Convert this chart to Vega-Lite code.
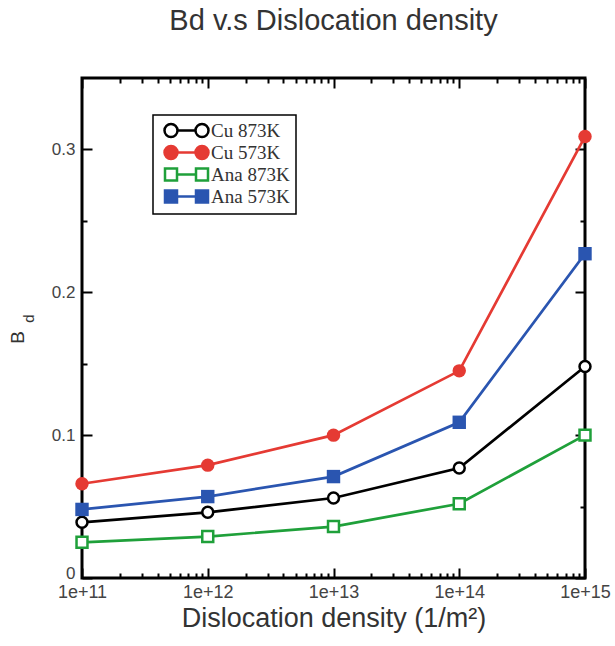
{
  "$schema": "https://vega.github.io/schema/vega-lite/v6.json",
  "autosize": "none",
  "padding": {"left": 82, "top": 78, "right": 30, "bottom": 68},
  "width": 503,
  "height": 500,
  "background": "white",
  "title": {
    "text": "Bd v.s Dislocation density",
    "font": "Liberation Sans",
    "fontSize": 29,
    "fontWeight": "normal",
    "color": "#333",
    "anchor": "middle",
    "offset": 41
  },
  "config": {
    "view": {"stroke": "black", "strokeWidth": 3},
    "axis": {
      "grid": false,
      "domain": false,
      "tickColor": "black",
      "tickWidth": 2,
      "labelFont": "Liberation Sans",
      "labelColor": "#444",
      "titleFont": "Liberation Sans",
      "titleColor": "#333",
      "titleFontWeight": "normal"
    }
  },
  "data": {
    "values": [
      {"rho": 1e11, "bd": 0.039, "series": "Cu 873K"},
      {"rho": 1e12, "bd": 0.046, "series": "Cu 873K"},
      {"rho": 1e13, "bd": 0.056, "series": "Cu 873K"},
      {"rho": 1e14, "bd": 0.077, "series": "Cu 873K"},
      {"rho": 1e15, "bd": 0.148, "series": "Cu 873K"},
      {"rho": 1e11, "bd": 0.066, "series": "Cu 573K"},
      {"rho": 1e12, "bd": 0.079, "series": "Cu 573K"},
      {"rho": 1e13, "bd": 0.100, "series": "Cu 573K"},
      {"rho": 1e14, "bd": 0.145, "series": "Cu 573K"},
      {"rho": 1e15, "bd": 0.309, "series": "Cu 573K"},
      {"rho": 1e11, "bd": 0.025, "series": "Ana 873K"},
      {"rho": 1e12, "bd": 0.029, "series": "Ana 873K"},
      {"rho": 1e13, "bd": 0.036, "series": "Ana 873K"},
      {"rho": 1e14, "bd": 0.052, "series": "Ana 873K"},
      {"rho": 1e15, "bd": 0.100, "series": "Ana 873K"},
      {"rho": 1e11, "bd": 0.048, "series": "Ana 573K"},
      {"rho": 1e12, "bd": 0.057, "series": "Ana 573K"},
      {"rho": 1e13, "bd": 0.071, "series": "Ana 573K"},
      {"rho": 1e14, "bd": 0.109, "series": "Ana 573K"},
      {"rho": 1e15, "bd": 0.227, "series": "Ana 573K"}
    ]
  },
  "resolve": {"axis": {"x": "independent", "y": "independent"}},
  "layer": [
    {
      "transform": [{"filter": "indexof(datum.series, 'Cu') == 0"}],
      "mark": {"type": "line", "strokeWidth": 2.7},
      "encoding": {
        "x": {
          "field": "rho", "type": "quantitative",
          "scale": {"type": "log", "domain": [1e11, 1e15], "nice": false},
          "axis": {
            "orient": "bottom",
            "values": [1e11, 1e12, 1e13, 1e14, 1e15],
            "labelExpr": "'1e+' + round(log(datum.value) / LN10)",
            "labelFontSize": 18,
            "labelPadding": 15,
            "labelFlush": false,
            "labelOverlap": false,
            "labelBound": false,
            "tickSize": -10,
            "title": "Dislocation density (1/m²)",
            "titleFontSize": 27,
            "titlePadding": 4
          }
        },
        "y": {
          "field": "bd", "type": "quantitative",
          "scale": {"domain": [0, 0.35], "nice": false, "zero": true},
          "axis": {
            "orient": "left",
            "values": [0, 0.1, 0.2, 0.3],
            "labelExpr": "datum.value == 0 ? '0' : format(datum.value, '.1f')",
            "labelFontSize": 17,
            "labelPadding": 17,
            "labelFlush": true,
            "labelFlushOffset": 4,
            "labelOverlap": false,
            "tickSize": -10,
            "title": "B",
            "titleFontSize": 19,
            "titleAngle": -90,
            "titleAlign": "center",
            "titleBaseline": "alphabetic",
            "titleX": -59,
            "titleY": 259
          }
        },
        "color": {
          "field": "series", "type": "nominal",
          "scale": {"domain": ["Cu 873K", "Cu 573K", "Ana 873K", "Ana 573K"], "range": ["#000000", "#e53a33", "#1fa03a", "#2a55b0"]},
          "legend": {
            "orient": "none", "legendX": 71, "legendY": 37, "title": null,
            "strokeColor": "black", "fillColor": "white",
            "padding": 6, "rowPadding": -1,
            "labelFont": "Liberation Serif", "labelFontSize": 19, "labelColor": "#333",
            "symbolSize": 100, "symbolOffset": 18, "labelOffset": 15, "symbolStrokeWidth": 2.5,
            "encode": {
              "legend": {"update": {"strokeWidth": {"value": 1.5}}},
              "symbols": {
                "update": {
                  "shape": {"signal": "indexof(datum.value, 'Cu') == 0 ? 'M-4.4,0A1.3,1.3,0,1,0,-1.8,0A1.3,1.3,0,1,0,-4.4,0ZM-1.8,0L1.8,0M1.8,0A1.3,1.3,0,1,0,4.4,0A1.3,1.3,0,1,0,1.8,0Z' : 'M-4.3,-1.2H-1.9V1.2H-4.3ZM-1.9,0H1.9M1.9,-1.2H4.3V1.2H1.9Z'"},
                  "fill": {"signal": "indexof(datum.value, '873') >= 0 ? 'white' : scale('color', datum.value)"},
                  "stroke": {"signal": "scale('color', datum.value)"},
                  "strokeWidth": {"value": 2.5},
                  "opacity": {"value": 1}
                }
              }
            }
          }
        }
      }
    },
    {
      "transform": [{"filter": "indexof(datum.series, 'Ana') == 0"}],
      "mark": {"type": "line", "strokeWidth": 2.7},
      "encoding": {
        "x": {
          "field": "rho", "type": "quantitative",
          "scale": {"type": "log", "domain": [1e11, 1e15], "nice": false},
          "axis": {"orient": "top", "values": [1e11, 1e12, 1e13, 1e14, 1e15], "labels": false, "tickSize": -10, "title": null}
        },
        "y": {
          "field": "bd", "type": "quantitative",
          "scale": {"domain": [0, 0.35], "nice": false, "zero": true},
          "axis": {"orient": "right", "values": [0, 0.1, 0.2, 0.3], "labels": false, "tickSize": -10, "title": null}
        },
        "color": {
          "field": "series", "type": "nominal",
          "scale": {"domain": ["Cu 873K", "Cu 573K", "Ana 873K", "Ana 573K"], "range": ["#000000", "#e53a33", "#1fa03a", "#2a55b0"]},
          "legend": {
            "orient": "none", "legendX": 71, "legendY": 37, "title": null,
            "strokeColor": "black", "fillColor": "white",
            "padding": 6, "rowPadding": -1,
            "labelFont": "Liberation Serif", "labelFontSize": 19, "labelColor": "#333",
            "symbolSize": 100, "symbolOffset": 18, "labelOffset": 15, "symbolStrokeWidth": 2.5,
            "encode": {
              "legend": {"update": {"strokeWidth": {"value": 1.5}}},
              "symbols": {
                "update": {
                  "shape": {"signal": "indexof(datum.value, 'Cu') == 0 ? 'M-4.4,0A1.3,1.3,0,1,0,-1.8,0A1.3,1.3,0,1,0,-4.4,0ZM-1.8,0L1.8,0M1.8,0A1.3,1.3,0,1,0,4.4,0A1.3,1.3,0,1,0,1.8,0Z' : 'M-4.3,-1.2H-1.9V1.2H-4.3ZM-1.9,0H1.9M1.9,-1.2H4.3V1.2H1.9Z'"},
                  "fill": {"signal": "indexof(datum.value, '873') >= 0 ? 'white' : scale('color', datum.value)"},
                  "stroke": {"signal": "scale('color', datum.value)"},
                  "strokeWidth": {"value": 2.5},
                  "opacity": {"value": 1}
                }
              }
            }
          }
        }
      }
    },
    {
      "transform": [{"filter": "indexof(datum.series, '873') >= 0"}],
      "mark": {"type": "point", "filled": false, "fill": "white", "strokeWidth": 2.5, "size": 120, "opacity": 1},
      "encoding": {
        "x": {
          "field": "rho", "type": "quantitative",
          "scale": {"type": "log", "domain": [1e11, 1e15], "nice": false},
          "axis": {"orient": "bottom", "values": [2e11, 3e11, 4e11, 5e11, 6e11, 7e11, 8e11, 9e11, 2e12, 3e12, 4e12, 5e12, 6e12, 7e12, 8e12, 9e12, 2e13, 3e13, 4e13, 5e13, 6e13, 7e13, 8e13, 9e13, 2e14, 3e14, 4e14, 5e14, 6e14, 7e14, 8e14, 9e14], "labels": false, "tickSize": -5, "title": null}
        },
        "y": {
          "field": "bd", "type": "quantitative",
          "scale": {"domain": [0, 0.35], "nice": false, "zero": true},
          "axis": {
            "orient": "left", "values": [0.05, 0.15, 0.25], "labels": false, "tickSize": -5,
            "title": "d",
            "titleFontSize": 15,
            "titleAngle": -90,
            "titleAlign": "center",
            "titleBaseline": "alphabetic",
            "titleX": -49,
            "titleY": 240
          }
        },
        "shape": {
          "field": "series", "type": "nominal",
          "scale": {"domain": ["Cu 573K", "Cu 873K", "Ana 573K", "Ana 873K"], "range": ["circle", "circle", "square", "square"]},
          "legend": null
        },
        "stroke": {
          "field": "series", "type": "nominal",
          "scale": {"domain": ["Ana 573K", "Ana 873K", "Cu 573K", "Cu 873K"], "range": ["#2a55b0", "#1fa03a", "#e53a33", "#000000"]},
          "legend": null
        }
      }
    },
    {
      "transform": [{"filter": "indexof(datum.series, '573') >= 0"}],
      "mark": {"type": "point", "filled": true, "size": 180, "opacity": 1},
      "encoding": {
        "x": {
          "field": "rho", "type": "quantitative",
          "scale": {"type": "log", "domain": [1e11, 1e15], "nice": false},
          "axis": {"orient": "top", "values": [2e11, 3e11, 4e11, 5e11, 6e11, 7e11, 8e11, 9e11, 2e12, 3e12, 4e12, 5e12, 6e12, 7e12, 8e12, 9e12, 2e13, 3e13, 4e13, 5e13, 6e13, 7e13, 8e13, 9e13, 2e14, 3e14, 4e14, 5e14, 6e14, 7e14, 8e14, 9e14], "labels": false, "tickSize": -5, "title": null}
        },
        "y": {
          "field": "bd", "type": "quantitative",
          "scale": {"domain": [0, 0.35], "nice": false, "zero": true},
          "axis": {"orient": "right", "values": [0.05, 0.15, 0.25], "labels": false, "tickSize": -5, "title": null}
        },
        "shape": {
          "field": "series", "type": "nominal",
          "scale": {"domain": ["Cu 573K", "Cu 873K", "Ana 573K", "Ana 873K"], "range": ["circle", "circle", "square", "square"]},
          "legend": null
        },
        "fill": {
          "field": "series", "type": "nominal",
          "scale": {"domain": ["Ana 873K", "Cu 873K", "Ana 573K", "Cu 573K"], "range": ["#1fa03a", "#000000", "#2a55b0", "#e53a33"]},
          "legend": null
        }
      }
    }
  ]
}
